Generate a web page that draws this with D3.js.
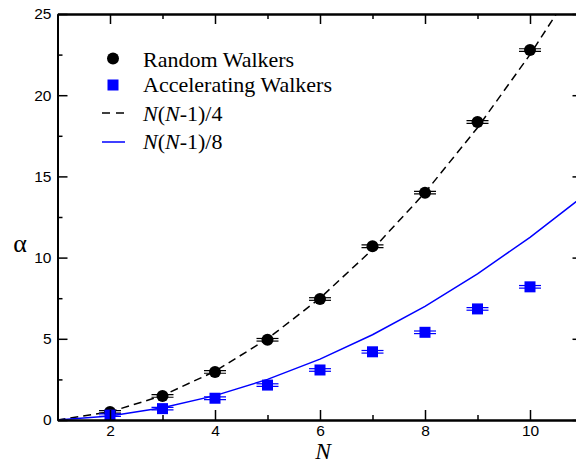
<!DOCTYPE html>
<html><head><meta charset="utf-8">
<script src="https://cdn.jsdelivr.net/npm/d3@7/dist/d3.min.js"></script>
<style>body{margin:0;background:#fff}svg{display:block}</style>
</head><body>
<script>
const N = [2,3,4,5,6,7,8,9,10];
const randomWalkers = [0.5,1.48,2.96,4.94,7.45,10.7,14.0,18.35,22.78];
const accelWalkers = [0.3,0.7,1.34,2.15,3.08,4.2,5.4,6.84,8.2];
const errSize = 0.08;
const theoryN = [1,2,3,4,5,6,7,8,9,10,11];
const theory4 = [0,0.5,1.5,3,5,7.5,10.5,14,18,22.5,27.5];
const theory8 = [0,0.25,0.75,1.5,2.5,3.75,5.25,7,9,11.25,13.75];
const xMajor = [2,4,6,8,10];
const xMinor = [3,5,7,9];
const yMajor = [0,5,10,15,20,25];
const yMinor = [2.5,7.5,12.5,17.5,22.5];

(function(){
const W=576,H=464;
const svg=d3.select("body").append("svg").attr("width",W).attr("height",H);
const L=57.5,R=582.5,T=14,B=420;
const x=d3.scaleLinear().domain([1,11]).range([L,R]);
const y=d3.scaleLinear().domain([0,25]).range([B,T]);

svg.append("defs").append("clipPath").attr("id","c")
  .append("rect").attr("x",L).attr("y",T).attr("width",R-L).attr("height",B-T);
const plot=svg.append("g").attr("clip-path","url(#c)");

const line=d3.line().x((d,i)=>x(theoryN[i])).y(d=>y(d));
plot.append("path").datum(theory4).attr("d",line).attr("fill","none")
  .attr("stroke","#000").attr("stroke-width",1.5).attr("stroke-dasharray","8,5");
plot.append("path").datum(theory8).attr("d",line).attr("fill","none")
  .attr("stroke","#0000ff").attr("stroke-width",1.5);

function errbars(vals,color){
  vals.forEach((v,i)=>{
    [v-errSize,v+errSize].forEach(e=>{
      plot.append("line").attr("x1",x(N[i])-11).attr("x2",x(N[i])+11)
        .attr("y1",y(e)).attr("y2",y(e)).attr("stroke",color).attr("stroke-width",1.2);
    });
  });
}
errbars(randomWalkers,"#000");
errbars(accelWalkers,"#0000ff");
plot.selectAll(".c").data(randomWalkers).enter().append("circle")
  .attr("cx",(d,i)=>x(N[i])).attr("cy",d=>y(d)).attr("r",6).attr("fill","#000");
plot.selectAll(".s").data(accelWalkers).enter().append("rect")
  .attr("x",(d,i)=>x(N[i])-5.5).attr("y",d=>y(d)-5.5).attr("width",11).attr("height",11).attr("fill","#0000ff");

const ax=svg.append("g");
const fmt=d3.format("d");
ax.append("g").attr("transform",`translate(0,${B})`)
  .call(d3.axisBottom(x).tickValues(xMajor).tickFormat(fmt).tickSizeInner(-10).tickSizeOuter(0).tickPadding(5));
ax.append("g").attr("transform",`translate(0,${B})`)
  .call(d3.axisBottom(x).tickValues(xMinor).tickFormat("").tickSizeInner(-5).tickSizeOuter(0));
ax.append("g").attr("transform",`translate(0,${T})`)
  .call(d3.axisTop(x).tickValues(xMajor).tickFormat("").tickSizeInner(-10).tickSizeOuter(0));
ax.append("g").attr("transform",`translate(0,${T})`)
  .call(d3.axisTop(x).tickValues(xMinor).tickFormat("").tickSizeInner(-5).tickSizeOuter(0));
ax.append("g").attr("transform",`translate(${L},0)`)
  .call(d3.axisLeft(y).tickValues(yMajor).tickFormat(fmt).tickSizeInner(-10).tickSizeOuter(0).tickPadding(6));
ax.append("g").attr("transform",`translate(${L},0)`)
  .call(d3.axisLeft(y).tickValues(yMinor).tickFormat("").tickSizeInner(-5).tickSizeOuter(0));
ax.append("g").attr("transform",`translate(${R},0)`)
  .call(d3.axisRight(y).tickValues(yMajor).tickFormat("").tickSizeInner(-10).tickSizeOuter(0));
ax.append("g").attr("transform",`translate(${R},0)`)
  .call(d3.axisRight(y).tickValues(yMinor).tickFormat("").tickSizeInner(-5).tickSizeOuter(0));
ax.selectAll(".domain").attr("stroke","#000").attr("stroke-width",2);
ax.selectAll(".tick line").attr("stroke","#000").attr("stroke-width",1.5);
ax.selectAll(".tick text").attr("font-family","Liberation Sans, Arial, sans-serif").attr("font-size",15.5).attr("fill","#000");

svg.append("text").attr("x",323).attr("y",458.8).attr("text-anchor","middle")
  .attr("font-family","Liberation Serif, Times New Roman, serif").attr("font-style","italic").attr("font-size",23.5).text("N");
svg.append("text").attr("x",20).attr("y",252).attr("text-anchor","middle")
  .attr("font-family","Liberation Serif, Times New Roman, serif").attr("font-size",26).text("α");

const lg=svg.append("g").attr("font-family","Liberation Serif, Times New Roman, serif").attr("font-size",22);
lg.append("circle").attr("cx",113).attr("cy",58.5).attr("r",6).attr("fill","#000");
lg.append("rect").attr("x",107.5).attr("y",79.5).attr("width",11).attr("height",11).attr("fill","#0000ff");
lg.append("line").attr("x1",102).attr("x2",125).attr("y1",113).attr("y2",113).attr("stroke","#000").attr("stroke-width",1.5).attr("stroke-dasharray","8,6");
lg.append("line").attr("x1",102).attr("x2",125).attr("y1",142).attr("y2",142).attr("stroke","#0000ff").attr("stroke-width",1.5);
lg.append("text").attr("x",143).attr("y",66.5).text("Random Walkers");
lg.append("text").attr("x",143).attr("y",92).text("Accelerating Walkers");
function formula(yy,d){
  const t=lg.append("text").attr("x",143).attr("y",yy);
  t.append("tspan").attr("font-style","italic").text("N");
  t.append("tspan").text("(");
  t.append("tspan").attr("font-style","italic").text("N");
  t.append("tspan").text("-1)/"+d);
}
formula(121,"4");
formula(149,"8");
})();
</script>
</body></html>
